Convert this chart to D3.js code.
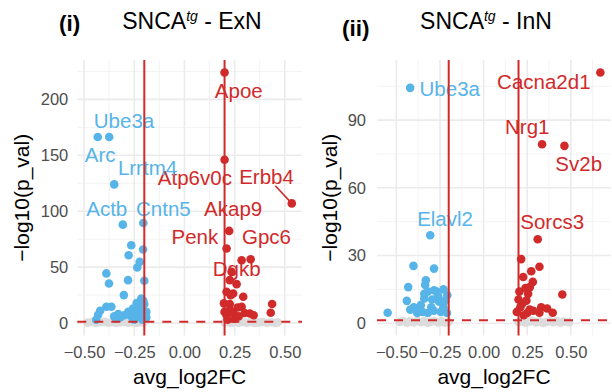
<!DOCTYPE html>
<html>
<head>
<meta charset="utf-8">
<script src="https://cdn.jsdelivr.net/npm/d3@7"></script>
<style>
	body { margin: 0; background: #fff; }
	svg { display: block; font-family: "Liberation Sans", Arial, sans-serif; }
</style>
</head>
<body>
<div id="chart"></div>
<script>
// ---- data: [avg_log2FC, -log10(p_val)] ----
const exnDown = [
	[-0.375, 166.3], [-0.432, 166.3], [-0.35, 124], [-0.307, 88], [-0.205, 89.5],
	[-0.265, 69.6], [-0.206, 65.8], [-0.278, 60.7], [-0.223, 54.7], [-0.235, 49.7],
	[-0.389, 44.4], [-0.376, 35.4], [-0.281, 38.4], [-0.2, 37.8], [-0.302, 25],
	[-0.389, 14.6], [-0.364, 14.6], [-0.43, 7.5], [-0.42, 11], [-0.215, 22],
	[-0.238, 18], [-0.2, 17], [-0.256, 13], [-0.28, 10], [-0.33, 8], [-0.19, 10],
	[-0.19, 5], [-0.3, 7], [-0.35, 6], [-0.24, 10], [-0.215, 12], [-0.26, 5],
	[-0.23, 6], [-0.32, 5], [-0.205, 20], [-0.225, 15], [-0.27, 7], [-0.34, 4],
	[-0.44, 3], [-0.25, 3], [-0.21, 3], [-0.197, 8.6]
];
const exnUp = [
	[0.2, 224], [0.2, 146], [0.535, 107], [0.223, 82.4], [0.21, 66.7], [0.33, 57],
	[0.235, 45.8], [0.285, 56.2], [0.226, 38.4], [0.26, 34.8], [0.21, 28],
	[0.243, 26.5], [0.293, 23.5], [0.197, 17.6], [0.226, 17], [0.285, 14.6],
	[0.326, 8.6], [0.345, 7], [0.437, 17], [0.43, 9.2], [0.243, 9], [0.226, 12],
	[0.3, 9], [0.21, 7], [0.27, 6], [0.25, 4], [0.2, 10], [0.23, 25], [0.265, 14],
	[0.215, 3]
];
const exnNs = [
	[-0.483, 0.4], [-0.46, 0.9], [-0.44, 0.2], [-0.42, 0.7], [-0.4, 1.1], [-0.38, 0.3],
	[-0.36, 0.8], [-0.34, 0.1], [-0.32, 0.6], [-0.3, 1.0], [-0.28, 0.3], [-0.26, 0.7],
	[-0.24, 0.2], [-0.22, 0.9], [-0.205, 0.4],
	[0.2, 0.5], [0.215, 1.0], [0.23, 0.2], [0.25, 0.8], [0.27, 0.3], [0.29, 1.1],
	[0.31, 0.4], [0.33, 0.9], [0.35, 0.1], [0.37, 0.6], [0.39, 1.0], [0.41, 0.3],
	[0.43, 0.7], [0.45, 0.2], [0.465, 0.6]
];
const exnGenes = ["Apoe", "Atp6v0c", "Ube3a", "Arc", "Lrrtm4", "Erbb4", "Actb", "Cntn5", "Akap9", "Penk", "Gpc6", "Dgkb"];
const exnGenePoint = [[0.2, 224], [0.2, 146], [-0.375, 166.3], [-0.432, 166.3], [-0.35, 124], [0.535, 107],
	[-0.307, 88], [-0.205, 89.5], [0.223, 82.4], [0.21, 66.7], [0.33, 57], [0.235, 45.8]];
const exnGeneText = [[0.271, 207.4], [0.052, 129.5], [-0.301, 181], [-0.42, 150], [-0.184, 138.5], [0.409, 131],
	[-0.387, 102.4], [-0.105, 102.4], [0.243, 102.4], [0.052, 77], [0.409, 76.8], [0.26, 48.8]];

const innDown = [
	[-0.421, 104.3], [-0.306, 39],
	[-0.402, 25.4], [-0.284, 24.2], [-0.331, 19], [-0.432, 16], [-0.44, 9.9], [-0.55, 4.6],
	[-0.4, 7], [-0.208, 12.4], [-0.23, 15], [-0.27, 14], [-0.32, 14], [-0.36, 8],
	[-0.38, 4.5], [-0.32, 4.5], [-0.285, 5.5], [-0.245, 5], [-0.23, 7], [-0.34, 11],
	[-0.295, 10.5], [-0.255, 9.5], [-0.21, 4.5], [-0.335, 17], [-0.42, 6], [-0.3, 7],
	[-0.26, 12], [-0.22, 10], [-0.35, 5], [-0.284, 14.6], [-0.34, 13]
];
const innUp = [
	[0.669, 111.1], [0.335, 79.3], [0.463, 78.6], [0.31, 37.2],
	[0.215, 28.4], [0.32, 25], [0.273, 23], [0.227, 20.5], [0.282, 18.3], [0.24, 15.6],
	[0.255, 13], [0.451, 12.7], [0.2, 10.5], [0.22, 8.5], [0.264, 6], [0.33, 7],
	[0.364, 6.5], [0.396, 4.6], [0.32, 4.6], [0.19, 5], [0.25, 4.5], [0.285, 5.5],
	[0.21, 7], [0.245, 10], [0.265, 16], [0.205, 14], [0.23, 3.5]
];
const innNs = [
	[-0.48, 0.5], [-0.46, 1.0], [-0.44, 0.2], [-0.42, 0.8], [-0.4, 0.3], [-0.38, 1.1],
	[-0.36, 0.4], [-0.34, 0.9], [-0.32, 0.1], [-0.3, 0.7], [-0.28, 1.0], [-0.26, 0.3],
	[-0.24, 0.8], [-0.22, 0.2], [-0.2, 0.6],
	[0.2, 0.4], [0.22, 0.9], [0.24, 0.2], [0.26, 0.7], [0.28, 1.1], [0.3, 0.3],
	[0.32, 0.8], [0.34, 0.1], [0.36, 0.6], [0.38, 1.0], [0.4, 0.4], [0.42, 0.9],
	[0.44, 0.2], [0.46, 0.7], [0.49, 0.4]
];
const innGenes = ["Ube3a", "Cacna2d1", "Nrg1", "Sv2b", "Elavl2", "Sorcs3"];
const innGenePoint = [[-0.421, 104.3], [0.669, 111.1], [0.335, 79.3], [0.463, 78.6], [-0.306, 39], [0.31, 37.2]];
const innGeneText = [[-0.194, 104], [0.345, 107], [0.25, 87], [0.545, 70.8], [-0.221, 46.4], [0.393, 44.9]];

const xTicks = [-0.5, -0.25, 0, 0.25, 0.5];
const exnYTicks = [0, 50, 100, 150, 200];
const innYTicks = [0, 30, 60, 90];
const fcCut = 0.2;
const pCut = -Math.log10(0.05);

// ---- style ----
const W = 612, H = 392;
const blue = "#56b4e9", red = "#d12a2a", grey = "#dcdcdc";
const fmt = d => (d < 0 ? "\u2212" : "") + Math.abs(d).toFixed(2);

const svg = d3.select("#chart").append("svg").attr("width", W).attr("height", H);

function drawPanel(o) {
	let all = o.down.concat(o.up, o.ns);
	let xe = d3.extent(all, d => d[0]), ye = d3.extent(all, d => d[1]);
	let xp = (xe[1] - xe[0]) * 0.05, yp = (ye[1] - ye[0]) * 0.05;
	let x = d3.scaleLinear().domain([xe[0] - xp, xe[1] + xp]).range([o.left, o.right]);
	let y = d3.scaleLinear().domain([ye[0] - yp, ye[1] + yp]).range([o.bottom, o.top]);

	let g = svg.append("g");

	// minor grid
	let xMinor = d3.range(-1, 1.01, 0.25).map(v => v + 0.125).filter(v => v > x.domain()[0] && v < x.domain()[1]);
	let yStep = o.yTicks[1] - o.yTicks[0];
	let yMinor = d3.range(0, ye[1] + yp, yStep).map(v => v + yStep / 2).filter(v => v < y.domain()[1]);
	g.selectAll(".xminor").data(xMinor).join("line")
		.attr("x1", d => x(d)).attr("x2", d => x(d)).attr("y1", o.top).attr("y2", o.bottom)
		.attr("stroke", "#f0f0f0").attr("stroke-width", 0.8);
	g.selectAll(".yminor").data(yMinor).join("line")
		.attr("x1", o.left).attr("x2", o.right).attr("y1", d => y(d)).attr("y2", d => y(d))
		.attr("stroke", "#f0f0f0").attr("stroke-width", 0.8);
	// major grid
	g.selectAll(".xmajor").data(xTicks).join("line")
		.attr("x1", d => x(d)).attr("x2", d => x(d)).attr("y1", o.top).attr("y2", o.bottom)
		.attr("stroke", "#ebebeb").attr("stroke-width", 1.6);
	g.selectAll(".ymajor").data(o.yTicks).join("line")
		.attr("x1", o.left).attr("x2", o.right).attr("y1", d => y(d)).attr("y2", d => y(d))
		.attr("stroke", "#ebebeb").attr("stroke-width", 1.6);

	// axes (text only, ggplot minimal style)
	let xAxis = g.append("g").attr("transform", "translate(0," + o.bottom + ")")
		.call(d3.axisBottom(x).tickValues(xTicks).tickFormat(fmt).tickSize(0).tickPadding(11));
	let yAxis = g.append("g").attr("transform", "translate(" + o.left + ",0)")
		.call(d3.axisLeft(y).tickValues(o.yTicks).tickSize(0).tickPadding(o.yPad));
	[xAxis, yAxis].forEach(a => {
		a.select(".domain").remove();
		a.selectAll("text").attr("fill", "#4d4d4d").attr("font-size", 16.5)
			.attr("font-family", "Liberation Sans, Arial, sans-serif");
	});
	xAxis.selectAll("text").attr("dy", "0.71em");

	// points
	let pts = [[o.ns, grey], [o.down, blue], [o.up, red]];
	pts.forEach(p => {
		g.append("g").selectAll("circle").data(p[0]).join("circle")
			.attr("cx", d => x(d[0])).attr("cy", d => y(d[1])).attr("r", 4.3)
			.attr("fill", p[1]);
	});

	// gene labels (repel-style: segment only when the label sits far from its point)
	let lab = g.append("g");
	o.genes.forEach((name, i) => {
		let pt = o.genePoint[i], tp = o.geneText[i];
		let col = pt[0] < 0 ? blue : red;
		let t = lab.append("text").attr("x", x(tp[0])).attr("y", y(tp[1])).attr("dy", "0.35em")
			.attr("text-anchor", "middle").attr("font-size", 20.5).attr("fill", col).text(name);
		let b = t.node().getBBox();
		let px = x(pt[0]), py = y(pt[1]);
		let nx = Math.max(b.x, Math.min(px, b.x + b.width));
		let ny = Math.max(b.y + 2, Math.min(py, b.y + b.height - 2));
		if (Math.hypot(px - nx, py - ny) > 14) {
			let cx = b.x + b.width / 2, cy = b.y + b.height / 2;
			let dx = px - cx, dy = py - cy;
			let tx = dx === 0 ? Infinity : (b.width / 2) / Math.abs(dx);
			let ty = dy === 0 ? Infinity : (b.height / 2 - 2) / Math.abs(dy);
			let s = Math.min(tx, ty);
			lab.append("line").attr("x1", cx + dx * s).attr("y1", cy + dy * s).attr("x2", px).attr("y2", py)
				.attr("stroke", col).attr("stroke-width", 1.6);
		}
	});

	// thresholds
	g.selectAll(".vcut").data([-fcCut, fcCut]).join("line")
		.attr("x1", d => x(d)).attr("x2", d => x(d)).attr("y1", o.top).attr("y2", o.bottom)
		.attr("stroke", red).attr("stroke-width", 2);
	g.append("line").attr("x1", o.left).attr("x2", o.right).attr("y1", y(pCut)).attr("y2", y(pCut))
		.attr("stroke", red).attr("stroke-width", 2).attr("stroke-dasharray", "9,8");

	// axis titles
	let mid = (o.left + o.right) / 2;
	g.append("text").attr("x", mid).attr("y", 384).attr("text-anchor", "middle")
		.attr("font-size", 21).attr("fill", "#000").text("avg_log2FC");
	g.append("text").attr("transform", "translate(" + o.yTitleX + "," + ((o.top + o.bottom) / 2) + ") rotate(-90)")
		.attr("text-anchor", "middle").attr("font-size", 21).attr("fill", "#000").text("\u2212log10(p_val)");

	// titles
	g.append("text").attr("x", o.tagX).attr("y", o.tagY).attr("font-size", 22.5).attr("font-weight", "bold")
		.attr("fill", "#000").text(o.tag);
	let tt = g.append("text").attr("x", o.titleX).attr("y", 28.5).attr("text-anchor", "middle")
		.attr("font-size", 23).attr("fill", "#000");
	tt.append("tspan").text("SNCA");
	tt.append("tspan").attr("font-size", 14).attr("font-style", "italic").attr("dy", -8).text("tg");
	tt.append("tspan").attr("dy", 8).text(" - " + o.cell);
}

drawPanel({
	down: exnDown, up: exnUp, ns: exnNs, genes: exnGenes, genePoint: exnGenePoint, geneText: exnGeneText,
	yTicks: exnYTicks, left: 77.3, right: 302, top: 60, bottom: 335.5, yPad: 9, yTitleX: 28.6,
	tag: "(i)", tagX: 59, tagY: 31, titleX: 192, cell: "ExN"
});
drawPanel({
	down: innDown, up: innUp, ns: innNs, genes: innGenes, genePoint: innGenePoint, geneText: innGeneText,
	yTicks: innYTicks, left: 377, right: 611, top: 60, bottom: 335.5, yPad: 11, yTitleX: 337,
	tag: "(ii)", tagX: 342, tagY: 36, titleX: 486, cell: "InN"
});
</script>
</body>
</html>
